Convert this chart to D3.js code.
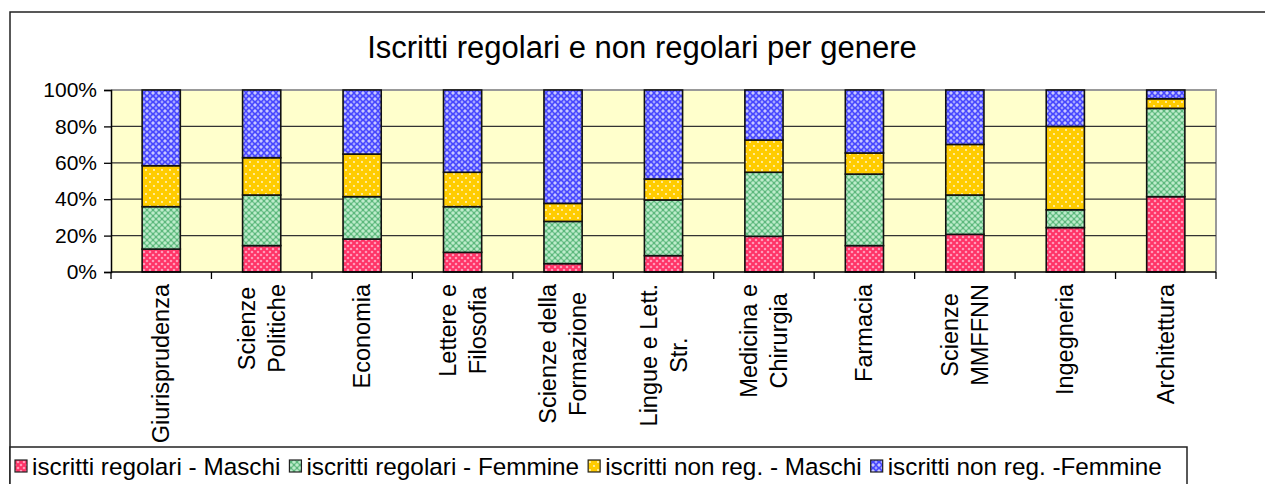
<!DOCTYPE html>
<html><head><meta charset="utf-8">
<script src="https://cdn.jsdelivr.net/npm/d3@7"></script>
<style>body{margin:0;background:#fff}svg{display:block;font-family:"Liberation Sans",Arial,sans-serif}</style>
</head><body><svg id="c" width="1265" height="484"></svg>
<script>
const categories = [["Giurisprudenza"],["Scienze","Politiche"],["Economia"],["Lettere e","Filosofia"],["Scienze della","Formazione"],["Lingue e Lett.","Str."],["Medicina e","Chirurgia"],["Farmacia"],["Scienze","MMFFNN"],["Ingegneria"],["Architettura"]];
const seriesNames = ["iscritti regolari - Maschi","iscritti regolari - Femmine","iscritti non reg. - Maschi","iscritti non reg. -Femmine"];
const regMaschi   = [12.6,14.5,18.1,10.8, 4.6, 9.0,19.6,14.5,20.7,24.4,41.4];
const regFemmine  = [23.3,27.8,23.3,25.1,23.2,30.6,35.2,39.3,21.6, 9.8,48.5];
const nonMaschi   = [22.5,20.5,23.4,18.9, 9.9,11.5,17.7,11.6,27.8,45.8, 5.3];
const nonFemmine  = [41.6,37.2,35.2,45.2,62.3,48.9,27.5,34.6,29.9,20.0, 4.8];
const yTicks = [0,20,40,60,80,100];
const title = "Iscritti regolari e non regolari per genere";

const svg = d3.select("#c");
const defs = svg.append("defs");
function pat(id, base, draw){
  const p = defs.append("pattern").attr("id",id).attr("patternUnits","userSpaceOnUse").attr("width",6).attr("height",6);
  p.append("rect").attr("width",6).attr("height",6).attr("fill",base);
  draw(p);
}
function corners(p, r, col){
  [[0,0],[6,0],[0,6],[6,6],[3,3]].forEach(([a,b])=>p.append("circle").attr("cx",a).attr("cy",b).attr("r",r).attr("fill",col));
}
pat("pRed","#ff3366",p=>corners(p,1.3,"#ff9ab8"));
pat("pGreen","#5cb87c",p=>corners(p,1.8,"#bdeccb"));
defs.append("pattern").attr("id","pYellow").attr("patternUnits","userSpaceOnUse").attr("width",8).attr("height",8)
  .call(p=>{p.append("rect").attr("width",8).attr("height",8).attr("fill","#ffcc00");
    p.append("circle").attr("cx",2).attr("cy",2).attr("r",0.9).attr("fill","#fff8dd");
    p.append("circle").attr("cx",6).attr("cy",6).attr("r",0.9).attr("fill","#fff8dd");});
pat("pBlue","#4646ff",p=>{
  p.append("path").attr("d","M3,1.2V4.8M1.2,3H4.8").attr("stroke","#eeeeff").attr("stroke-width",1.1);
  [[0,0],[6,0],[0,6],[6,6]].forEach(([a,b])=>p.append("circle").attr("cx",a).attr("cy",b).attr("r",1.4).attr("fill","#a4a4ff"));
});
const fills = ["url(#pRed)","url(#pGreen)","url(#pYellow)","url(#pBlue)"];

// outer frame
svg.append("rect").attr("x",10).attr("y",12).attr("width",1400).attr("height",600).attr("fill","#fff").attr("stroke","#222").attr("stroke-width",1.5);

svg.append("text").attr("x",642).attr("y",58).attr("text-anchor","middle").attr("font-size",31).attr("fill","#000").text(title);

const L=111,R=1216,T=90,B=272;
const x = d3.scaleBand().domain(d3.range(categories.length)).range([L,R]).paddingInner(0.62).paddingOuter(0.31);
const y = d3.scaleLinear().domain([0,100]).range([B,T]);

svg.append("rect").attr("x",L).attr("y",T).attr("width",R-L).attr("height",B-T).attr("fill","#ffffcc");
svg.append("path").attr("d",`M${L},${T}H${R}V${B}`).attr("fill","none").attr("stroke","#999").attr("stroke-width",2);
svg.append("g").selectAll("line").data(yTicks.filter(t=>t>0&&t<100)).join("line")
  .attr("x1",L).attr("x2",R).attr("y1",d=>y(d)).attr("y2",d=>y(d)).attr("stroke","#333").attr("stroke-width",1.3);

const data = categories.map((c,i)=>({i, v:[regMaschi[i],regFemmine[i],nonMaschi[i],nonFemmine[i]]}));
const stack = d3.stack().keys([0,1,2,3]).value((d,k)=>d.v[k]).offset(d3.stackOffsetExpand);
const stacked = stack(data);
stacked.forEach((s,k)=>{
  svg.append("g").selectAll("rect").data(s).join("rect")
    .attr("x",d=>x(d.data.i)).attr("width",x.bandwidth())
    .attr("y",d=>y(d[1]*100)).attr("height",d=>y(d[0]*100)-y(d[1]*100))
    .attr("fill",fills[k]).attr("stroke","#111").attr("stroke-width",1.6);
});

// y axis
const yAxis = d3.axisLeft(y).tickValues(yTicks).tickFormat(d=>d+"%").tickSize(7).tickPadding(7);
const gy = svg.append("g").attr("transform",`translate(${L},0)`).call(yAxis);
gy.select(".domain").attr("stroke","#000").attr("stroke-width",1.5);
gy.selectAll(".tick line").attr("stroke","#000").attr("stroke-width",1.3);
gy.selectAll("text").attr("font-size",21).attr("fill","#000").attr("font-family","Liberation Sans, Arial, sans-serif");

// x axis: ticks at category boundaries
const step = x.step();
const bounds = d3.range(categories.length+1).map(i=>L+i*step);
svg.append("line").attr("x1",L).attr("x2",R).attr("y1",B).attr("y2",B).attr("stroke","#000").attr("stroke-width",1.5);
svg.append("g").selectAll("line").data(bounds).join("line").attr("x1",d=>d).attr("x2",d=>d).attr("y1",B).attr("y2",B+7).attr("stroke","#000").attr("stroke-width",1.3);

const lab = svg.append("g").attr("font-size",23.5).attr("fill","#000");
categories.forEach((lines,i)=>{
  const c = x(i)+x.bandwidth()/2;
  const g = lab.append("g");
  const ts = lines.map((t,j)=>g.append("text").attr("text-anchor","middle").text(t));
  const maxW = d3.max(ts,t=>t.node().getComputedTextLength());
  const n = lines.length;
  g.attr("transform",`translate(${c},${284+maxW/2}) rotate(-90)`);
  ts.forEach((t,j)=>t.attr("x",0).attr("y",(j-(n-1)/2)*30+8));
});

// legend
svg.append("rect").attr("x",10).attr("y",447).attr("width",1177).attr("height",60).attr("fill","#fff").attr("stroke","#222").attr("stroke-width",1.5);
let lx = 15;
seriesNames.forEach((nm,k)=>{
  svg.append("rect").attr("x",lx).attr("y",460).attr("width",12).attr("height",12).attr("fill",fills[k]).attr("stroke","#222").attr("stroke-width",1.2);
  const t = svg.append("text").attr("x",lx+17).attr("y",475).attr("font-size",24.3).attr("fill","#000").text(nm);
  lx += 17 + t.node().getComputedTextLength() + 9;
});
</script></body></html>
